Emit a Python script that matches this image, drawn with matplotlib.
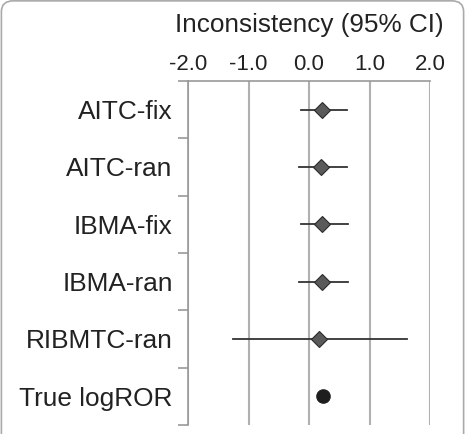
import matplotlib
matplotlib.use("Agg")
import matplotlib.pyplot as plt
from matplotlib.patches import FancyBboxPatch
import numpy as np

plt.rcParams['font.family'] = ['Liberation Sans', 'DejaVu Sans']

labels = ["AITC-fix", "AITC-ran", "IBMA-fix", "IBMA-ran", "RIBMTC-ran", "True logROR"]
est = [0.21, 0.20, 0.22, 0.21, 0.17]
lo = [-0.13, -0.16, -0.13, -0.16, -1.26]
hi = [0.62, 0.62, 0.65, 0.65, 1.62]
true_val = 0.23
xticks = [-2.0, -1.0, 0.0, 1.0, 2.0]
xticklabels = ["-2.0", "-1.0", "0.0", "1.0", "2.0"]
title = "Inconsistency (95% CI)"

fig = plt.figure(figsize=(4.65, 4.34), dpi=100)
ax = fig.add_axes([188/465, 1-425/434, (430-188)/465, (425-81)/434])

n = len(labels)
ypos = np.arange(n)
for i in range(len(est)):
    ax.plot([lo[i], hi[i]], [ypos[i], ypos[i]], color='#333333', lw=1.3, zorder=3)
    ax.plot(est[i], ypos[i], marker='D', ms=8, mfc='#5a5a5a', mec='#2a2a2a', mew=0.8, zorder=4)
ax.plot(true_val, ypos[-1], marker='o', ms=9.5, mfc='#1e1e1e', mec='#1e1e1e', zorder=4)

ax.set_xlim(-2, 2)
ax.set_ylim(n - 0.5, -0.5)
ax.xaxis.set_ticks_position('top')
ax.set_xticks(xticks)
ax.set_xticklabels(xticklabels, fontsize=16, color='#222222')
ax.tick_params(axis='x', length=0, pad=4.5)
ax.grid(axis='x', color='#b0b0b0', lw=1.5)
ax.set_axisbelow(True)

ax.set_yticks(np.arange(-0.5, n, 1.0))
ax.set_yticklabels([])
ax.set_yticks(ypos, minor=True)
ax.set_yticklabels(labels, minor=True, fontsize=18.9, color='#222222')
ax.tick_params(axis='y', which='major', length=7, color='#999999', width=1.2)
ax.tick_params(axis='y', which='minor', length=0, pad=11)

for s in ['right', 'bottom']:
    ax.spines[s].set_visible(False)
for s in ['top', 'left']:
    ax.spines[s].set_color('#999999')
    ax.spines[s].set_linewidth(1.2)

fig.text(309/465, 1 - 25/434, title, fontsize=18.8, color='#222222', ha='center', va='center')

border = FancyBboxPatch((0.003, -0.05), 0.994, 1.048, boxstyle="round,pad=0,rounding_size=0.025",
                        transform=fig.transFigure, fill=False, ec='#aaaaaa', lw=1.2, clip_on=False)
fig.patches.append(border)

fig.savefig("out.png", dpi=100)
